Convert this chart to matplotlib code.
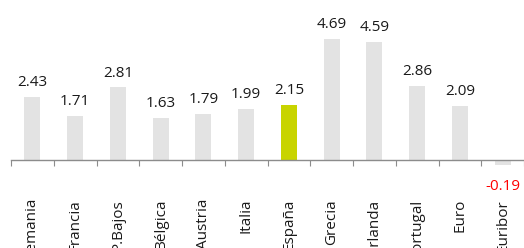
import numpy as np
import matplotlib
matplotlib.use("Agg")
import matplotlib.pyplot as plt

# Data
countries = ['Alemania', 'Francia', 'P.Bajos', 'Bélgica', 'Austria', 'Italia',
             'España', 'Grecia', 'Irlanda', 'Portugal', 'Euro', 'Euribor']
values = [2.43, 1.71, 2.81, 1.63, 1.79, 1.99, 2.15, 4.69, 4.59, 2.86, 2.09, -0.19]
highlight = 'España'

plt.rcParams['font.family'] = ['Open Sans', 'DejaVu Sans']

fig = plt.figure(figsize=(5.24, 2.48), dpi=100)
ax = fig.add_axes([11 / 524, 0, 1 - 11 / 524, 1])

x = np.arange(len(countries))
colors = ['#c8d400' if c == highlight else '#e3e3e3' for c in countries]
bars = ax.bar(x, values, width=0.38, color=colors, zorder=2)

ax.set_xlim(-0.5, len(countries) - 0.5)
ax.set_ylim(-3.41, 6.2)

for spine in ['left', 'right', 'top']:
    ax.spines[spine].set_visible(False)
ax.spines['bottom'].set_position(('data', 0))
ax.spines['bottom'].set_color('#8c8c8c')
ax.spines['bottom'].set_linewidth(1.0)
ax.set_yticks([])

# tick marks between categories, labels at category centres
ax.set_xticks(np.arange(len(countries) + 1) - 0.5)
ax.set_xticklabels([])
ax.tick_params(axis='x', which='major', length=4, color='#8c8c8c', direction='out')
ax.set_xticks(x, minor=True)
ax.set_xticklabels(countries, minor=True, rotation=90, fontsize=11, color='#1a1a1a')
ax.tick_params(axis='x', which='minor', length=0, pad=28)

for xi, v in zip(x, values):
    if v >= 0:
        ax.annotate(f'{v:.2f}', (xi, v), xytext=(0, 5), textcoords='offset points',
                    ha='center', va='bottom', fontsize=11, color='#1a1a1a')
    else:
        ax.annotate(f'{v:.2f}', (xi, v), xytext=(0, -10), textcoords='offset points',
                    ha='center', va='top', fontsize=11, color='#ff0000')

fig.savefig('out.png', dpi=100)
